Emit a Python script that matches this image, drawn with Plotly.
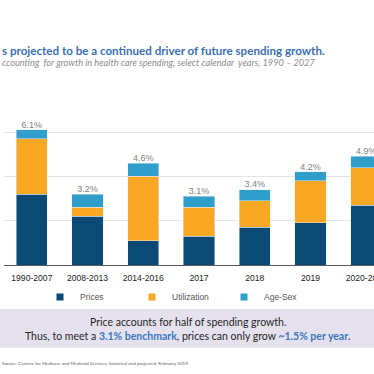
import plotly.graph_objects as go

categories = ["1990-2007", "2008-2013", "2014-2016", "2017", "2018", "2019", "2020-2027"]
prices = [3.2, 2.2, 1.1, 1.3, 1.7, 1.9, 2.7]
utilization = [2.5, 0.4, 2.9, 1.3, 1.2, 1.9, 1.7]
age_sex = [0.4, 0.6, 0.6, 0.5, 0.5, 0.4, 0.5]
total_labels = ["6.1%", "3.2%", "4.6%", "3.1%", "3.4%", "4.2%", "4.9%"]
totals = [p + u + a for p, u, a in zip(prices, utilization, age_sex)]

W, H = 374, 374
L, R = 4, 0
T, B = 120.7, 265
plot_h = B - T
plot_w = W - L - R

def py(y):
    return (B - y) / plot_h

def px(x):
    return (x - L) / plot_w

C_PRICES = "#0b4a75"
C_UTIL = "#f8a823"
C_AGE = "#2f9ecb"

fig = go.Figure()
fig.add_bar(x=categories, y=prices, marker_color=C_PRICES, showlegend=False, name="Prices")
fig.add_bar(x=categories, y=utilization, marker_color=C_UTIL, showlegend=False, name="Utilization")
fig.add_bar(x=categories, y=age_sex, marker_color=C_AGE, showlegend=False, name="Age-Sex")
fig.add_scatter(x=categories, y=totals, mode="text", text=total_labels,
                textposition="top center", showlegend=False,
                textfont=dict(family="Liberation Sans, Arial", size=9, color="#7f7f7f"),
                cliponaxis=False)

for name, col in [("Prices", C_PRICES), ("Utilization", C_UTIL), ("Age-Sex", C_AGE)]:
    fig.add_scatter(x=[None], y=[None], mode="markers", name=name,
                    marker=dict(symbol="square", size=7, color=col))

fig.update_layout(
    width=W, height=H,
    margin=dict(l=L, r=R, t=T, b=H - B, pad=0, autoexpand=False),
    paper_bgcolor="white", plot_bgcolor="white",
    barmode="stack", bargap=0.44,
    xaxis=dict(range=[-0.5, 6.14], showgrid=False, ticks="", showline=False,
               automargin=False,
               tickfont=dict(family="Liberation Sans, Arial", size=8.6, color="#222222"),
               ticklabelstandoff=6),
    yaxis=dict(range=[0, 6.5], dtick=2, showticklabels=False, showgrid=True,
               automargin=False,
               gridcolor="#e3e3e3", gridwidth=1, zeroline=True, zerolinecolor="#595959",
               zerolinewidth=1.2),
    legend=dict(orientation="h", x=px(40), xanchor="left", y=py(297), yanchor="middle",
                traceorder="normal",
                font=dict(family="Liberation Sans, Arial", size=8.5, color="#555555"),
                itemsizing="trace", entrywidth=47, entrywidthmode="pixels",
                bgcolor="rgba(0,0,0,0)"),
    font=dict(family="Liberation Sans, Arial"),
)

fig.add_shape(type="rect", xref="paper", yref="paper", x0=px(0), x1=px(374),
              y0=py(309), y1=py(348), fillcolor="#e5e1ee", line_width=0, layer="below")

fig.add_annotation(xref="paper", yref="paper", x=px(0), y=py(50.5), xanchor="left", yanchor="middle",
                   text="<b>s projected to be a continued driver of future spending growth.</b>",
                   showarrow=False, font=dict(family="Lato", size=11.6, color="#3b6fb5"))
fig.add_annotation(xref="paper", yref="paper", x=px(0), y=py(62), xanchor="left", yanchor="middle",
                   text="<i>ccounting  for growth in health care spending, select calendar  years, 1990 – 2027</i>",
                   showarrow=False, font=dict(family="Lato", size=9.2, color="#8c8c8c"))
fig.add_annotation(xref="paper", yref="paper", x=px(188), y=py(322.5), xanchor="center", yanchor="middle",
                   text="Price accounts for half of spending growth.",
                   showarrow=False, font=dict(family="Lato", size=10.5, color="#262626"))
fig.add_annotation(xref="paper", yref="paper", x=px(188), y=py(336), xanchor="center", yanchor="middle",
                   text="Thus, to meet a <b><span style='color:#3b78c0'>3.1% benchmark</span></b>, prices can only grow <b><span style='color:#3b78c0'>~1.5% per year</span></b>.",
                   showarrow=False, font=dict(family="Lato", size=10.5, color="#262626"))
fig.add_annotation(xref="paper", yref="paper", x=px(0), y=py(363), xanchor="left", yanchor="middle",
                   text="Source: Centers for Medicare and Medicaid Services, historical and projected, February 2019.",
                   showarrow=False, font=dict(family="Lato", size=4.6, color="#595959"))

fig.write_html("out.html", config={"displayModeBar": False},
               post_script="document.body.style.margin='0';document.body.style.overflow='hidden';")
